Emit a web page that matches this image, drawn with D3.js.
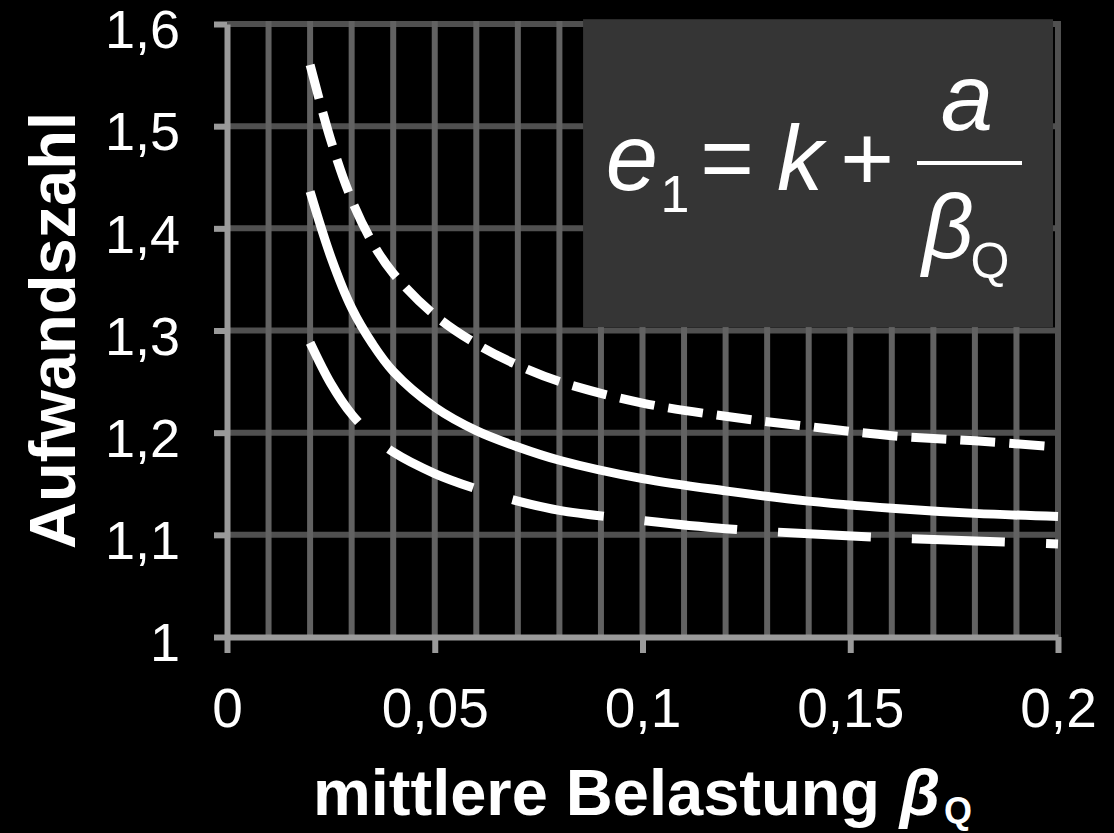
<!DOCTYPE html>
<html>
<head>
<meta charset="utf-8">
<script src="https://cdn.jsdelivr.net/npm/d3@7"></script>
<style>
  body { margin: 0; background: #000; }
  svg { display: block; font-family: "Liberation Sans", Arial, sans-serif; }
</style>
</head>
<body>
<svg id="chart" width="1114" height="833"></svg>
<script>
// values
let beta = [0.02, 0.025, 0.03, 0.035, 0.04, 0.05, 0.06, 0.07, 0.08, 0.10, 0.12, 0.14, 0.16, 0.18, 0.20];
let upperCurve = [1.560, 1.486, 1.428, 1.386, 1.356, 1.315, 1.287, 1.266, 1.250, 1.229, 1.216, 1.206, 1.197, 1.192, 1.186];
let middleCurve = [1.436, 1.372, 1.322, 1.287, 1.260, 1.225, 1.202, 1.186, 1.173, 1.155, 1.143, 1.133, 1.126, 1.121, 1.118];
let lowerCurve = [1.288, 1.248, 1.218, 1.197, 1.181, 1.160, 1.145, 1.133, 1.124, 1.114, 1.106, 1.101, 1.097, 1.094, 1.091];

let xTicks = [0, 0.05, 0.1, 0.15, 0.2];
let yTicks = [1, 1.1, 1.2, 1.3, 1.4, 1.5, 1.6];

let series = [
    {name: "upper", values: upperCurve, dash: "35,14"},
    {name: "middle", values: middleCurve, dash: null},
    {name: "lower", values: lowerCurve, dash: "93,41"}
];

let margin = {top: 24, left: 227},
    width = 831,
    height = 613;

let de = d3.formatLocale({decimal: ",", thousands: ".", grouping: [3], currency: ["", " €"]});
let fmt = de.format("~g");

let svg = d3.select("#chart");
svg.append("rect").attr("width", 1114).attr("height", 833).attr("fill", "#000");

let g = svg.append("g")
    .attr("transform", "translate(" + margin.left + "," + margin.top + ")");

let x = d3.scaleLinear().domain([0, 0.2]).range([0, width]);
let y = d3.scaleLinear().domain([1, 1.6]).range([height, 0]);

// grid
g.selectAll(".hgrid")
    .data(yTicks.slice(1))
    .enter().append("line")
    .attr("class", "hgrid")
    .attr("x1", 0).attr("x2", width)
    .attr("y1", d => y(d)).attr("y2", d => y(d))
    .style("stroke", "#505050")
    .style("stroke-width", 6);

g.selectAll(".vgrid")
    .data(x.ticks(20).slice(1))
    .enter().append("line")
    .attr("class", "vgrid")
    .attr("x1", d => x(d)).attr("x2", d => x(d))
    .attr("y1", -3).attr("y2", height)
    .style("stroke", d => Math.abs(d - 0.2) < 1e-9 ? "#505050" : "#626262")
    .style("stroke-width", 6);

// formula box
g.append("rect")
    .attr("x", x(0.0857))
    .attr("y", y(1.6047))
    .attr("width", x(0.1988) - x(0.0857))
    .attr("height", y(1.3033) - y(1.6047))
    .attr("fill", "#353535");

// axes
let yAxis = d3.axisLeft(y)
    .tickValues(yTicks)
    .tickFormat(fmt)
    .tickSizeInner(13)
    .tickSizeOuter(0)
    .tickPadding(34);

let xAxis = d3.axisBottom(x)
    .tickValues(xTicks)
    .tickFormat(fmt)
    .tickSizeInner(16)
    .tickSizeOuter(0);

let gy = g.append("g").attr("class", "y axis").call(yAxis);
let gx = g.append("g").attr("class", "x axis")
    .attr("transform", "translate(0," + height + ")")
    .call(xAxis);

[gx, gy].forEach(function (a) {
    a.select(".domain").style("stroke", "#9a9a9a").style("stroke-width", 6);
    a.selectAll(".tick line").style("stroke", "#9a9a9a").style("stroke-width", 6);
    a.selectAll(".tick text")
        .style("fill", "#fff")
        .style("font-family", "'Liberation Sans', Arial, sans-serif");
});
gy.selectAll(".tick text").style("font-size", "54px").attr("dy", "0.44em");
gx.selectAll(".tick text").style("font-size", "55px").attr("y", 51).attr("dy", "0.71em");

// curves
let line = d3.line()
    .x(d => x(d[0]))
    .y(d => y(d[1]))
    .curve(d3.curveCatmullRom.alpha(0.5));

g.selectAll(".curve")
    .data(series)
    .enter().append("path")
    .attr("class", "curve")
    .attr("d", d => line(beta.map((b, i) => [b, d.values[i]])))
    .style("fill", "none")
    .style("stroke", "#fff")
    .style("stroke-width", 9)
    .style("stroke-dasharray", d => d.dash);

// formula
let fx = svg.append("g").style("fill", "#fff");
fx.append("text").attr("x", 632).attr("y", 190).attr("text-anchor", "middle")
    .style("font-size", "94px").style("font-style", "italic").text("e");
fx.append("text").attr("x", 675).attr("y", 212).attr("text-anchor", "middle")
    .style("font-size", "52px").text("1");
fx.append("text").attr("x", 727).attr("y", 190).attr("text-anchor", "middle")
    .style("font-size", "92px").text("=");
fx.append("text").attr("x", 800).attr("y", 190).attr("text-anchor", "middle")
    .style("font-size", "92px").style("font-style", "italic").text("k");
fx.append("text").attr("x", 867).attr("y", 190).attr("text-anchor", "middle")
    .style("font-size", "92px").text("+");
fx.append("line").attr("x1", 917).attr("x2", 1022).attr("y1", 163).attr("y2", 163)
    .style("stroke", "#fff").style("stroke-width", 4);
fx.append("text").attr("x", 967).attr("y", 130).attr("text-anchor", "middle")
    .style("font-size", "94px").style("font-style", "italic").text("a");
fx.append("text").attr("x", 948).attr("y", 258).attr("text-anchor", "middle")
    .style("font-size", "90px").style("font-style", "italic").text("β");
fx.append("text").attr("x", 990).attr("y", 278).attr("text-anchor", "middle")
    .style("font-size", "50px").text("Q");

// axis titles
svg.append("text")
    .attr("transform", "translate(75," + (margin.top + height / 2) + ") rotate(-90)")
    .attr("text-anchor", "middle")
    .style("font-size", "65px").style("font-weight", "bold").style("fill", "#fff")
    .text("Aufwandszahl");

let xt = svg.append("text")
    .attr("x", 313).attr("y", 815)
    .style("font-size", "65px").style("font-weight", "bold").style("fill", "#fff");
xt.append("tspan").text("mittlere Belastung");
xt.append("tspan").attr("x", 920).attr("text-anchor", "middle").style("font-style", "italic").text("β");
xt.append("tspan").attr("x", 958).attr("dy", 8).attr("text-anchor", "middle").style("font-size", "36px").text("Q");
</script>
</body>
</html>
